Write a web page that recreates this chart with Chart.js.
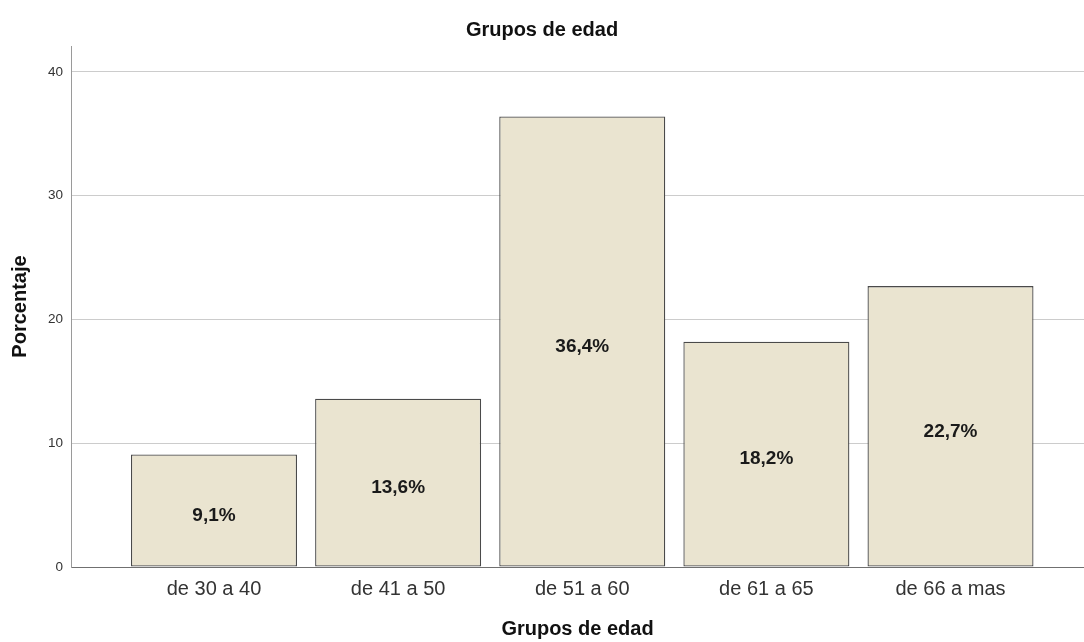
<!DOCTYPE html>
<html>
<head>
<meta charset="utf-8">
<script src="https://cdn.jsdelivr.net/npm/chart.js@4/dist/chart.umd.min.js"></script>
<style>
  html, body { margin: 0; padding: 0; background: #ffffff; }
  #wrap { width: 1084px; height: 642px; position: relative; }
</style>
</head>
<body>
<div id="wrap"><canvas id="c" width="1084" height="642"></canvas></div>
<script>
const categories = ['de 30 a 40', 'de 41 a 50', 'de 51 a 60', 'de 61 a 65', 'de 66 a mas'];
const percentages = [9.1, 13.6, 36.4, 18.2, 22.7];
const yTickValues = [0, 10, 20, 30, 40];
const chartTitle = 'Grupos de edad';
const xAxisTitle = 'Grupos de edad';
const yAxisTitle = 'Porcentaje';

const FONT = "'Liberation Sans', Arial, Helvetica, sans-serif";

const barLabels = {
  id: 'barLabels',
  afterDatasetsDraw(chart) {
    const ctx = chart.ctx;
    const meta = chart.getDatasetMeta(0);
    ctx.save();
    ctx.font = 'bold 19px ' + FONT;
    ctx.fillStyle = '#1a1a1a';
    ctx.textAlign = 'center';
    ctx.textBaseline = 'middle';
    meta.data.forEach((el, i) => {
      const v = percentages[i];
      const txt = v.toFixed(1).replace('.', ',') + '%';
      const mid = (el.y + el.base) / 2 + 5;
      ctx.fillText(txt, el.x, mid);
    });
    ctx.restore();
  }
};

new Chart(document.getElementById('c'), {
  type: 'bar',
  data: {
    datasets: [{
      data: percentages.map((v, i) => ({ x: i, y: v })),
      backgroundColor: '#EAE4D0',
      borderColor: '#4a4a4a',
      borderWidth: 1.3,
      borderSkipped: false,
      categoryPercentage: 1,
      barPercentage: 0.9016
    }]
  },
  options: {
    responsive: false,
    animation: false,
    devicePixelRatio: 1,
    layout: { padding: { left: 0, right: 0, top: 0, bottom: 0 } },
    plugins: {
      legend: { display: false },
      tooltip: { enabled: false },
      title: {
        display: true,
        text: chartTitle,
        color: '#111111',
        font: { family: FONT, size: 20, weight: 'bold', lineHeight: 1.2 },
        padding: { top: 18, bottom: 4 }
      }
    },
    scales: {
      x: {
        type: 'linear',
        offset: false,
        min: -0.7766,
        max: 4.725,
        grid: { display: false, drawTicks: false, offset: false },
        border: { display: true, color: '#707070', width: 1 },
        afterBuildTicks(scale) {
          scale.ticks = categories.map((_, i) => ({ value: i }));
        },
        afterFit(scale) { scale.height = 75; },
        ticks: {
          autoSkip: false,
          maxRotation: 0,
          padding: 10,
          color: '#333333',
          font: { family: FONT, size: 20 },
          callback: (v) => categories[v]
        },
        title: {
          display: true,
          text: xAxisTitle,
          color: '#111111',
          font: { family: FONT, size: 20, weight: 'bold', lineHeight: 1.2 },
          padding: { top: 0, bottom: 1 }
        }
      },
      y: {
        min: 0,
        max: 42.1,
        grid: { color: '#cccccc', lineWidth: 1, drawTicks: false },
        border: { display: true, color: '#9a9a9a', width: 1 },
        afterBuildTicks(scale) {
          scale.ticks = yTickValues.map(v => ({ value: v }));
        },
        afterFit(scale) { scale.width = 71; },
        ticks: {
          padding: 8,
          color: '#333333',
          font: { family: FONT, size: 13.5 }
        },
        title: {
          display: true,
          text: yAxisTitle,
          color: '#111111',
          font: { family: FONT, size: 20, weight: 'bold', lineHeight: 1.2 },
          padding: { top: 8, bottom: 0 }
        }
      }
    }
  },
  plugins: [barLabels]
});
</script>
</body>
</html>
